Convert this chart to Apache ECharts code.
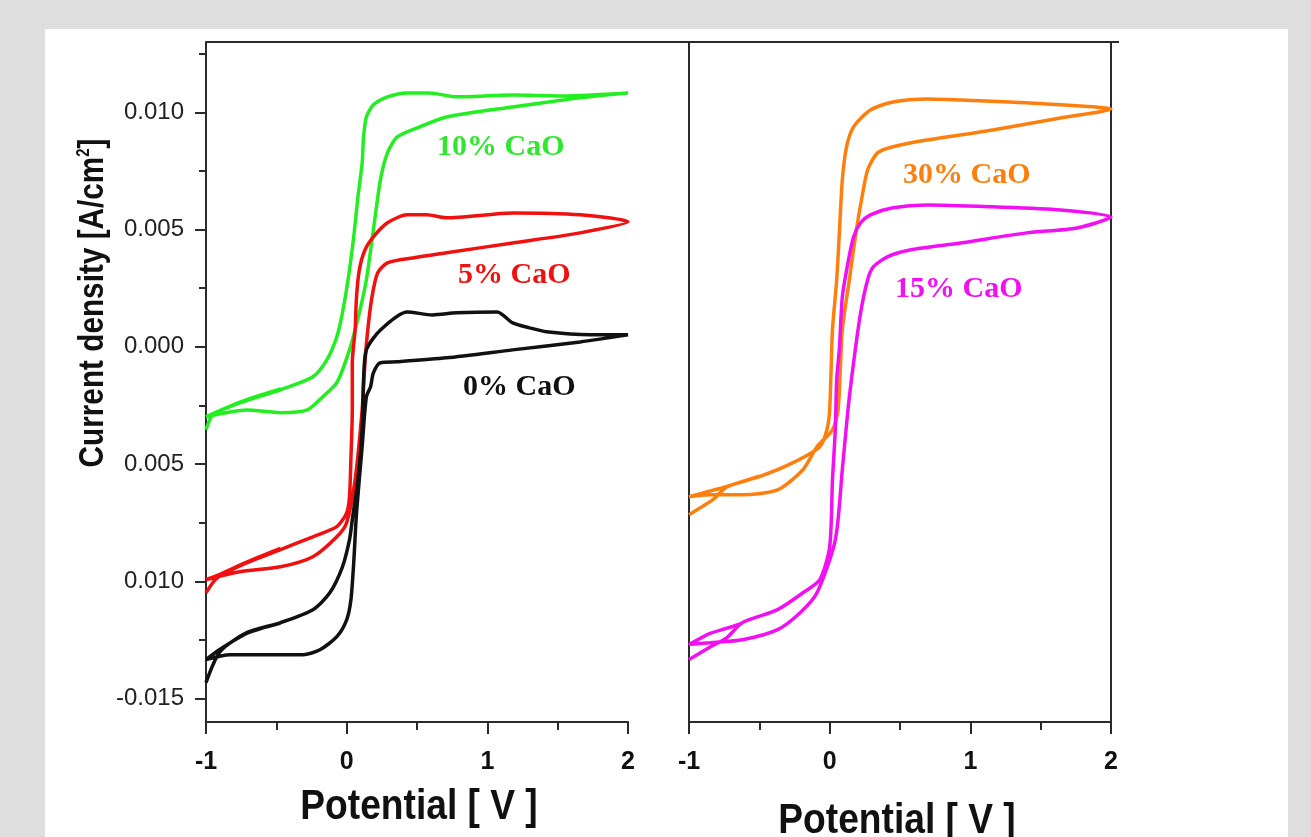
<!DOCTYPE html>
<html>
<head>
<meta charset="utf-8">
<title>CV curves CaO</title>
<script src="https://cdn.jsdelivr.net/npm/echarts@6/dist/echarts.min.js"></script>
<style>
  html, body { margin: 0; padding: 0; background: #dedede; }
  #chart { width: 1311px; height: 837px; }
</style>
</head>
<body>
<div id="chart"></div>
<script>
// potential [V], current density [A/cm2]
const potentialTicks = [-1, 0, 1, 2];
const currentTicks = [0.010, 0.005, 0, -0.005, -0.010, -0.015];
const currentTickLabels = ['0.010', '0.005', '0.000', '0.005', '0.010', '-0.015'];
const currentMinorTicks = [0.0125, 0.0075, 0.0025, -0.0025, -0.0075, -0.0125];

const cao10 = [
  [-1.00, -0.00354], [-0.95, -0.00290], [-0.76, -0.00239], [-0.47, -0.00183], [-0.24, -0.00128],
  [-0.14, -0.00055], [-0.07, 0.00043], [-0.03, 0.00145], [0.01, 0.00286], [0.05, 0.00469],
  [0.08, 0.00639], [0.11, 0.00784], [0.12, 0.00895], [0.14, 0.00980], [0.19, 0.01032],
  [0.29, 0.01066], [0.43, 0.01083], [0.59, 0.01083], [0.78, 0.01066], [1.18, 0.01074],
  [1.54, 0.01070], [2.00, 0.01083],
  [1.54, 0.01053], [1.18, 0.01023], [0.71, 0.00980], [0.52, 0.00938], [0.36, 0.00895],
  [0.29, 0.00827], [0.24, 0.00712], [0.19, 0.00499], [0.14, 0.00286], [0.09, 0.00145],
  [0.02, -0.00013], [-0.07, -0.00153], [-0.17, -0.00213], [-0.28, -0.00269], [-0.47, -0.00281],
  [-0.71, -0.00269], [-1.00, -0.00298],
  [-0.95, -0.00285], [-0.76, -0.00236], [-0.47, -0.00180]
];

const cao5 = [
  [-1.00, -0.01049], [-0.92, -0.00985], [-0.71, -0.00921], [-0.47, -0.00865], [-0.24, -0.00810],
  [-0.07, -0.00767], [0.00, -0.00708], [0.02, -0.00639], [0.03, -0.00480], [0.04, -0.00269],
  [0.04, -0.00068], [0.06, 0.00072], [0.07, 0.00213], [0.09, 0.00328], [0.13, 0.00413],
  [0.19, 0.00469], [0.29, 0.00529], [0.43, 0.00563], [0.57, 0.00563], [0.71, 0.00550],
  [1.18, 0.00571], [1.66, 0.00563], [2.00, 0.00533],
  [1.66, 0.00486], [1.18, 0.00443], [0.71, 0.00401], [0.47, 0.00379], [0.29, 0.00358],
  [0.22, 0.00315], [0.18, 0.00213], [0.15, 0.00072], [0.13, -0.00068], [0.11, -0.00269],
  [0.06, -0.00567], [0.00, -0.00750], [-0.07, -0.00810], [-0.24, -0.00895], [-0.47, -0.00938],
  [-0.76, -0.00959], [-1.00, -0.00993],
  [-0.92, -0.00975], [-0.71, -0.00918], [-0.47, -0.00860]
];

const cao0 = [
  [-1.00, -0.01432], [-0.90, -0.01300], [-0.71, -0.01219], [-0.47, -0.01176], [-0.24, -0.01121],
  [-0.12, -0.01049], [-0.03, -0.00938], [0.02, -0.00823], [0.04, -0.00737], [0.08, -0.00567],
  [0.11, -0.00354], [0.12, -0.00141], [0.14, -0.00013], [0.24, 0.00072], [0.43, 0.00149],
  [0.61, 0.00136], [0.78, 0.00145], [1.07, 0.00149], [1.18, 0.00102], [1.30, 0.00081],
  [1.42, 0.00064], [1.73, 0.00051], [2.00, 0.00051],
  [1.66, 0.00021], [1.18, -0.00013], [0.71, -0.00047], [0.36, -0.00064], [0.24, -0.00068],
  [0.19, -0.00111], [0.17, -0.00170], [0.14, -0.00213], [0.11, -0.00426], [0.07, -0.00708],
  [0.05, -0.00921], [0.03, -0.01080], [0.00, -0.01164], [-0.07, -0.01236], [-0.19, -0.01292],
  [-0.31, -0.01313], [-0.47, -0.01313], [-0.83, -0.01313], [-1.00, -0.01334],
  [-0.90, -0.01290], [-0.71, -0.01222], [-0.47, -0.01178]
];

const cao30 = [
  [-1.00, -0.00716], [-0.83, -0.00652], [-0.73, -0.00597], [-0.50, -0.00554], [-0.26, -0.00494],
  [-0.07, -0.00426], [-0.02, -0.00354], [0.00, -0.00269], [0.02, 0.00072], [0.05, 0.00286],
  [0.07, 0.00499], [0.09, 0.00712], [0.12, 0.00853], [0.17, 0.00938], [0.29, 0.01010],
  [0.45, 0.01044], [0.69, 0.01057], [0.93, 0.01053], [1.28, 0.01044], [1.64, 0.01032],
  [2.00, 0.01014],
  [1.64, 0.00976], [1.16, 0.00925], [0.69, 0.00882], [0.45, 0.00853], [0.34, 0.00827],
  [0.27, 0.00754], [0.23, 0.00639], [0.19, 0.00499], [0.14, 0.00286], [0.09, 0.00072],
  [0.06, -0.00269], [0.02, -0.00354], [-0.09, -0.00426], [-0.19, -0.00524], [-0.37, -0.00610],
  [-0.62, -0.00631], [-0.85, -0.00631], [-1.00, -0.00639],
  [-0.85, -0.00615], [-0.73, -0.00595], [-0.50, -0.00552]
];

const cao15 = [
  [-1.00, -0.01334], [-0.85, -0.01280], [-0.73, -0.01240], [-0.62, -0.01176], [-0.37, -0.01121],
  [-0.19, -0.01049], [-0.07, -0.00993], [0.00, -0.00853], [0.02, -0.00567], [0.04, -0.00354],
  [0.05, -0.00141], [0.07, 0.00000], [0.09, 0.00213], [0.13, 0.00358], [0.17, 0.00469],
  [0.22, 0.00529], [0.29, 0.00563], [0.45, 0.00593], [0.69, 0.00605], [1.16, 0.00597],
  [1.64, 0.00584], [2.00, 0.00554],
  [1.76, 0.00507], [1.40, 0.00486], [0.93, 0.00443], [0.57, 0.00413], [0.41, 0.00384],
  [0.31, 0.00341], [0.27, 0.00286], [0.22, 0.00145], [0.17, -0.00068], [0.13, -0.00269],
  [0.09, -0.00524], [0.04, -0.00823], [-0.09, -0.01049], [-0.21, -0.01134], [-0.37, -0.01206],
  [-0.62, -0.01249], [-0.85, -0.01262], [-1.00, -0.01270],
  [-0.85, -0.01222], [-0.73, -0.01200], [-0.62, -0.01178]
];

const sans = "'Liberation Sans', Arial, sans-serif";
const serif = "'Liberation Serif', 'Times New Roman', serif";
const axisColor = '#2a2a2a';

const chart = echarts.init(document.getElementById('chart'));

function nearestLabel(v) {
  let best = 0;
  currentTicks.forEach((t, i) => {
    if (Math.abs(t - v) < Math.abs(currentTicks[best] - v)) best = i;
  });
  return currentTickLabels[best];
}

function xAxisFor(gridIndex) {
  return {
    type: 'value',
    gridIndex: gridIndex,
    min: -1,
    max: 2,
    interval: 1,
    axisLine: { onZero: false, lineStyle: { color: axisColor, width: 2 } },
    axisTick: { length: 12, lineStyle: { color: axisColor, width: 2 } },
    minorTick: { show: true, splitNumber: 2, length: 8, lineStyle: { color: axisColor, width: 2 } },
    axisLabel: {
      margin: 28,
      fontFamily: sans, fontWeight: 'bold', fontSize: 25, color: '#111',
      formatter: v => (potentialTicks.indexOf(Math.round(v)) >= 0 ? String(Math.round(v)) : '')
    },
    splitLine: { show: false }
  };
}

// axis titles are drawn narrow, like the condensed face in the picture
function axisTitle(text, x, y, rotation, size, squeeze) {
  return {
    type: 'text', x: x, y: y, rotation: rotation, scaleX: squeeze,
    style: {
      text: text,
      fontFamily: sans, fontWeight: 'bold', fontSize: size, fill: '#111',
      align: 'center', verticalAlign: 'middle',
      rich: { sup: { fontFamily: sans, fontWeight: 'bold', fontSize: size * 0.5, fill: '#111', verticalAlign: 'top', lineHeight: size } }
    }
  };
}

const yRange = { min: -0.016, max: 0.013 };

const option = {
  backgroundColor: '#dedede',
  animation: false,
  graphic: [
    { type: 'rect', z: -10, shape: { x: 45, y: 29, width: 1243, height: 820 }, style: { fill: '#ffffff' } },
    { type: 'line', z: 10, shape: { x1: 206, y1: 42, x2: 1119, y2: 42 }, style: { stroke: axisColor, lineWidth: 2 } },
    axisTitle('Current density [A/cm{sup|2}]', 93, 303, Math.PI / 2, 35, 0.85),
    axisTitle('Potential [ V ]', 419, 807, 0, 42, 0.885),
    axisTitle('Potential [ V ]', 897, 821, 0, 42, 0.885),
    { type: 'text', x: 437, y: 147, style: { text: '10% CaO', font: 'bold 30px ' + serif, fill: '#2ee82e', verticalAlign: 'middle' } },
    { type: 'text', x: 458, y: 275, style: { text: '5% CaO', font: 'bold 30px ' + serif, fill: '#f01010', verticalAlign: 'middle' } },
    { type: 'text', x: 463, y: 387, style: { text: '0% CaO', font: 'bold 30px ' + serif, fill: '#111111', verticalAlign: 'middle' } },
    { type: 'text', x: 903, y: 175, style: { text: '30% CaO', font: 'bold 30px ' + serif, fill: '#ff7f0e', verticalAlign: 'middle' } },
    { type: 'text', x: 895, y: 289, style: { text: '15% CaO', font: 'bold 30px ' + serif, fill: '#f20ff2', verticalAlign: 'middle' } }
  ],
  grid: [
    { left: 206, top: 42, width: 422, height: 680, outerBoundsMode: 'none' },
    { left: 689, top: 42, width: 422, height: 680, outerBoundsMode: 'none' }
  ],
  xAxis: [xAxisFor(0), xAxisFor(1)],
  yAxis: [
    {
      type: 'value', gridIndex: 0, min: yRange.min, max: yRange.max,
      axisLine: { show: true, onZero: false, lineStyle: { color: axisColor, width: 2 } },
      axisTick: { show: true, customValues: currentTicks, length: 11, lineStyle: { color: axisColor, width: 2 } },
      axisLabel: {
        customValues: currentTicks, margin: 22,
        fontFamily: sans, fontSize: 24, color: '#222',
        formatter: v => nearestLabel(v)
      },
      splitLine: { show: false }
    },
    {
      type: 'value', gridIndex: 0, min: yRange.min, max: yRange.max, position: 'left',
      axisLine: { show: false, onZero: false },
      axisTick: { show: true, customValues: currentMinorTicks, length: 7, lineStyle: { color: axisColor, width: 2 } },
      axisLabel: { show: false },
      splitLine: { show: false }
    },
    {
      type: 'value', gridIndex: 1, min: yRange.min, max: yRange.max,
      axisLine: { show: true, onZero: false, lineStyle: { color: axisColor, width: 2 } },
      axisTick: { show: false }, axisLabel: { show: false }, splitLine: { show: false }
    },
    {
      type: 'value', gridIndex: 1, min: yRange.min, max: yRange.max, position: 'right',
      axisLine: { show: true, onZero: false, lineStyle: { color: axisColor, width: 2 } },
      axisTick: { show: false }, axisLabel: { show: false }, splitLine: { show: false }
    }
  ],
  series: [
    { name: '10% CaO', data: cao10, color: '#22ee22', xAxisIndex: 0, yAxisIndex: 0 },
    { name: '5% CaO', data: cao5, color: '#f01010', xAxisIndex: 0, yAxisIndex: 0 },
    { name: '0% CaO', data: cao0, color: '#111111', xAxisIndex: 0, yAxisIndex: 0 },
    { name: '30% CaO', data: cao30, color: '#ff7f0e', xAxisIndex: 1, yAxisIndex: 2 },
    { name: '15% CaO', data: cao15, color: '#f20ff2', xAxisIndex: 1, yAxisIndex: 2 }
  ].map(s => Object.assign({
    type: 'line',
    showSymbol: false,
    smooth: 0.25,
    lineStyle: { width: 3.5 }
  }, s))
};

chart.setOption(option);
</script>
</body>
</html>
